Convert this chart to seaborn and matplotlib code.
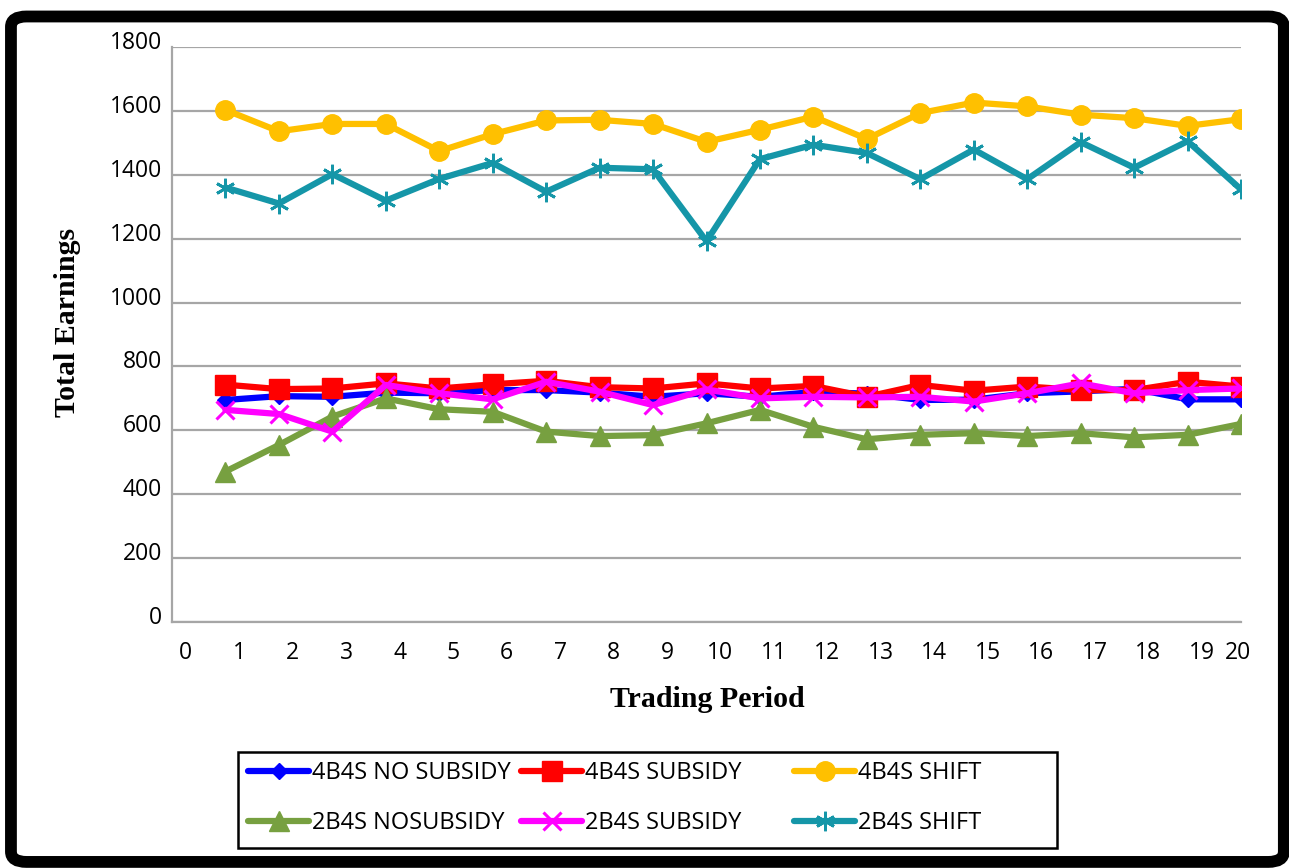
import matplotlib
matplotlib.use("Agg")
import matplotlib.pyplot as plt
import matplotlib.transforms as mtransforms
from matplotlib.patches import FancyBboxPatch, Rectangle
import seaborn as sns
import pandas as pd

periods = list(range(1, 21))

no_subsidy_4b4s = [695, 707, 705, 718, 716, 726, 726, 718, 705, 716,
                   705, 720, 715, 695, 696, 716, 722, 730, 697, 697]
subsidy_4b4s = [743, 729, 731, 747, 731, 744, 755, 735, 731, 747,
                731, 739, 705, 742, 724, 737, 726, 726, 752, 737]
shift_4b4s = [1603, 1536, 1559, 1559, 1474, 1527, 1570, 1572, 1559, 1503,
              1541, 1582, 1512, 1593, 1626, 1614, 1588, 1577, 1553, 1574]
no_subsidy_2b4s = [471, 554, 643, 700, 666, 658, 596, 582, 585, 622,
                   664, 611, 572, 586, 591, 582, 591, 578, 586, 620]
subsidy_2b4s = [664, 651, 596, 742, 716, 697, 752, 721, 679, 728,
                700, 705, 703, 705, 690, 716, 747, 716, 726, 731]
shift_2b4s = [1360, 1310, 1402, 1319, 1387, 1437, 1347, 1422, 1417, 1192,
              1449, 1494, 1468, 1386, 1479, 1386, 1502, 1422, 1505, 1354]

labels = ["4B4S NO SUBSIDY", "4B4S SUBSIDY", "4B4S SHIFT",
          "2B4S NOSUBSIDY", "2B4S SUBSIDY", "2B4S SHIFT"]
values = [no_subsidy_4b4s, subsidy_4b4s, shift_4b4s,
          no_subsidy_2b4s, subsidy_2b4s, shift_2b4s]

# per-series look (colour, marker, size, edge width)
styles = [
    ("#0000FF", "D", 8, 1),
    ("#FF0000", "s", 15, 1),
    ("#FFC000", "o", 14, 1),
    ("#77A040", "^", 14, 1),
    ("#FF00FF", "x", 13, 2.2),
    ("#1596A8", (6, 2, 0), 14, 2.0),
]

sns.set_style("white")
plt.rcParams["font.family"] = ["Open Sans", "DejaVu Sans"]
plt.rcParams["text.color"] = "black"

fig = plt.figure(figsize=(12.89, 8.68), dpi=100)
ax = fig.add_axes([0.1334, 0.2834, 0.8294, 0.6625])

handles = {}
for lab, vals, (col, mk, ms, mew) in zip(labels, values, styles):
    df = pd.DataFrame({"period": periods, "earn": vals})
    sns.lineplot(data=df, x="period", y="earn", ax=ax, color=col,
                 linewidth=4.5, marker=mk, markersize=ms,
                 markeredgecolor=col, markeredgewidth=mew,
                 label=lab, legend=False)
    handles[lab] = ax.lines[-1]

ax.set_xlim(0, 20)
ax.set_ylim(0, 1800)
ax.set_yticks(range(0, 1801, 200))
ax.set_xticks(range(0, 21))
ax.yaxis.grid(True, color="#a6a6a6", linewidth=1.6)
ax.xaxis.grid(False)
for side in ["top", "right"]:
    ax.spines[side].set_visible(False)
for side in ["left", "bottom"]:
    ax.spines[side].set_color("#a6a6a6")
    ax.spines[side].set_linewidth(1.6)
ax.tick_params(axis="both", colors="#a6a6a6", labelcolor="black",
               labelsize=16.5, direction="out", length=6, width=1.6)
ax.tick_params(axis="x", pad=8)
ax.tick_params(axis="y", pad=1)

# Excel-like label placement
for i, t in enumerate(ax.get_xticklabels()):
    dx = 10 / 72 if i < 20 else -2 / 72
    t.set_transform(t.get_transform() +
                    mtransforms.ScaledTranslation(dx, 0, fig.dpi_scale_trans))
for t in ax.get_yticklabels():
    t.set_transform(t.get_transform() +
                    mtransforms.ScaledTranslation(0, 5 / 72, fig.dpi_scale_trans))

ax.set_xlabel("")
ax.set_ylabel("")
fig.text(0.052, 0.628, "Total Earnings", rotation=90, ha="center", va="center",
         family="Liberation Serif", fontweight="bold", fontsize=21.5,
         color="black")
fig.text(0.549, 0.194, "Trading Period", ha="center", va="center",
         family="Liberation Serif", fontweight="bold", fontsize=21.5,
         color="black")

# legend: three equal-width columns inside one black box
columns = [["4B4S NO SUBSIDY", "2B4S NOSUBSIDY"],
           ["4B4S SUBSIDY", "2B4S SUBSIDY"],
           ["4B4S SHIFT", "2B4S SHIFT"]]
col_x = [248, 521, 794]
for names, x in zip(columns, col_x):
    leg = fig.legend([handles[k] for k in names], names, loc="center left",
                     bbox_to_anchor=(x / 1289, 1 - 798 / 868),
                     fontsize=17, frameon=False, handlelength=2.6,
                     handletextpad=0.1, labelspacing=1.1, borderpad=0,
                     borderaxespad=0, numpoints=1)
    for t in leg.get_texts():
        t.set_color("black")

fig.patches.append(Rectangle((238 / 1289, 1 - 848 / 868), 819 / 1289, 96 / 868,
                             transform=fig.transFigure, fill=False,
                             edgecolor="black", linewidth=1.8))

# thick rounded outer border
border = FancyBboxPatch((0.0085, 0.007), 0.9875, 0.974,
                        boxstyle="round,pad=0,rounding_size=0.012",
                        transform=fig.transFigure, fill=False,
                        edgecolor="black", linewidth=8.5)
fig.patches.append(border)

fig.savefig("out.png", dpi=100)
